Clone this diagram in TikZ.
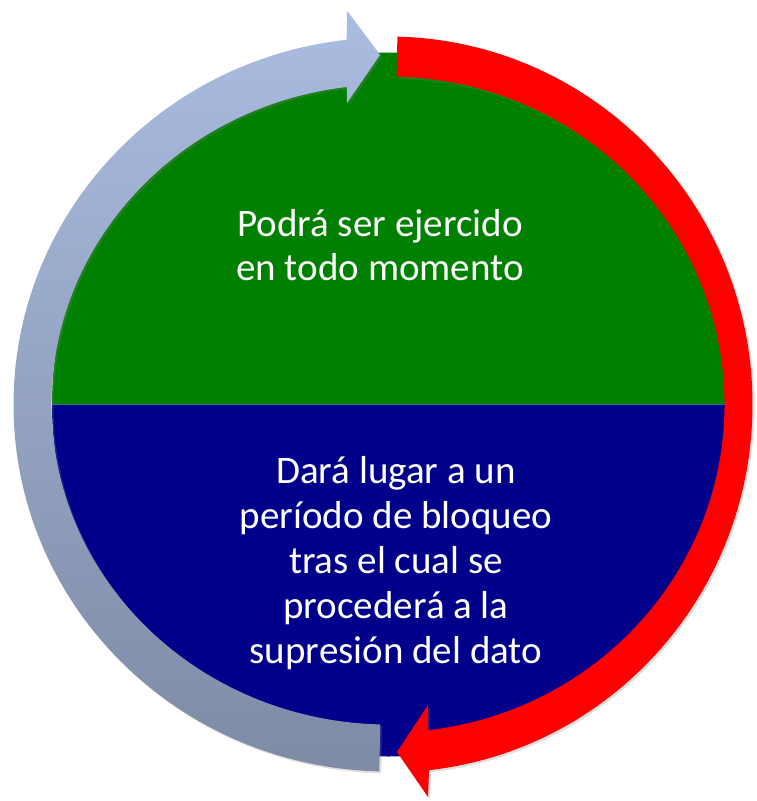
\documentclass[tikz,border=0pt]{standalone}
\usepackage{fontspec}
\setmainfont{Carlito}
\usetikzlibrary{positioning,shadows}
\definecolor{topclr}{RGB}{0,128,0}
\definecolor{botclr}{RGB}{0,0,139}
\definecolor{redclr}{RGB}{255,0,0}
\definecolor{bluetopclr}{RGB}{170,188,224}
\definecolor{bluebotclr}{RGB}{126,139,165}
\tikzset{
  halftext/.style={text=white,align=center,inner sep=0pt},
  arrowshadow/.style={drop shadow={opacity=0.25,shadow xshift=2pt,shadow yshift=-2pt}}
}

\begin{document}
\begin{tikzpicture}[x=1pt,y=1pt]
\useasboundingbox (-388.5,-396.5) rectangle (367.5,404.5);
% the two halves
\path[fill=topclr] (-336.5,0) arc[start angle=180,end angle=0,x radius=336.5,y radius=352] -- cycle;
\path[fill=botclr] (-336.5,0) arc[start angle=180,end angle=360,x radius=336.5,y radius=352] -- cycle;
% red arrow, right side
\path[fill=redclr,arrowshadow]
(88.6:336 and 328) -- (88.6:364 and 368)
arc[start angle=88.6,end angle=-83.6,x radius=364,y radius=368]
-- (39.5,-392.5) -- (8.5,-347.5) -- (39.5,-300.5)
-- (-83.2:336 and 328)
arc[start angle=-83.2,end angle=88.6,x radius=336,y radius=328] -- cycle;
% blue arrow, left side
\path[top color=bluetopclr,bottom color=bluebotclr,arrowshadow]
(268.6:337 and 320) -- (268.6:375 and 367)
arc[start angle=268.6,end angle=96.4,x radius=375,y radius=367]
-- (-41.5,393.5) -- (-8.5,349.5) -- (-41.5,301.5)
-- (97.1:337 and 320)
arc[start angle=97.1,end angle=268.6,x radius=337,y radius=320] -- cycle;
% texts
\node[halftext,font=\fontsize{39}{44}\selectfont] (toptext) at (-8.5,159.5) {Podrá ser ejercido\\en todo momento};
\node[halftext,font=\fontsize{39}{45}\selectfont] (bottext) at (7.5,-159) {Dará lugar a un\\período de bloqueo\\tras el cual se\\procederá a la\\supresión del dato};
\end{tikzpicture}
\end{document}
